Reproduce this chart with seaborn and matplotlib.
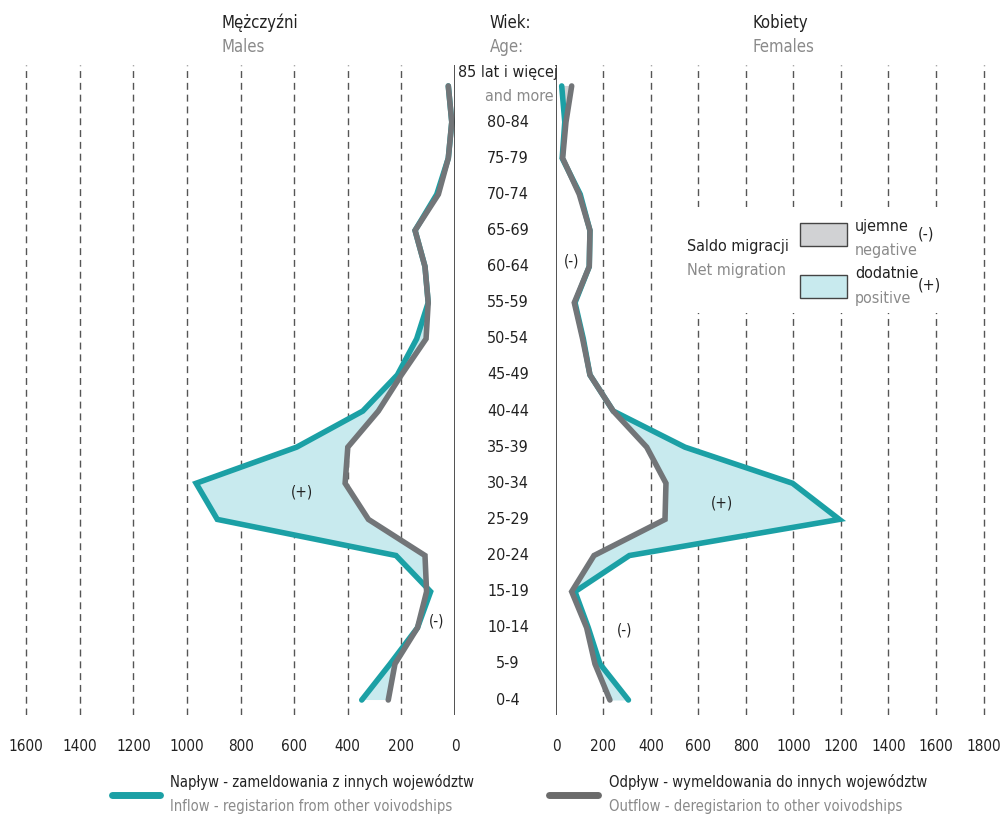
import numpy as np
import pandas as pd
import matplotlib
matplotlib.use("Agg")
from matplotlib import pyplot as plt
from matplotlib import transforms
from matplotlib.patches import Rectangle
from matplotlib.lines import Line2D
import seaborn as sns

# age groups, bottom to top
ages = ["0-4", "5-9", "10-14", "15-19", "20-24", "25-29", "30-34", "35-39", "40-44",
        "45-49", "50-54", "55-59", "60-64", "65-69", "70-74", "75-79", "80-84", "85 lat i więcej"]

males_in = [348, 242, 140, 91, 220, 887, 966, 591, 344, 215, 143, 100, 112, 149, 68, 25, 12, 25]
males_out = [249, 224, 140, 106, 112, 323, 410, 400, 286, 200, 108, 100, 112, 149, 62, 25, 12, 25]
females_in = [305, 185, 136, 80, 309, 1193, 996, 543, 241, 143, 115, 80, 140, 143, 102, 26, 37, 24]
females_out = [227, 164, 129, 66, 160, 459, 463, 382, 241, 143, 112, 77, 140, 143, 98, 28, 42, 66]

male_ticks = [0, 200, 400, 600, 800, 1000, 1200, 1400, 1600]
female_ticks = [0, 200, 400, 600, 800, 1000, 1200, 1400, 1600, 1800]

TEAL = "#1ba0a5"
GREY = "#727578"
POS = "#c8eaee"
NEG = "#d1d2d4"
DARK = "#222222"
LIGHT = "#8a8a8a"

sns.set_style("white")
plt.rcParams["font.family"] = ["DejaVu Sans"]
plt.rcParams["font.stretch"] = "condensed"
FS = 11

W, H = 1003, 814
fig = plt.figure(figsize=(W / 100, H / 100), dpi=100)

def px_box(x0, x1, y0, y1):
    return [x0 / W, 1 - y1 / H, (x1 - x0) / W, (y1 - y0) / H]

axL = fig.add_axes(px_box(5, 455, 65, 715))
axR = fig.add_axes(px_box(556, 1003, 65, 715))

pos = np.arange(len(ages))
ylim = (-0.415, 17.58)

def panel(ax, inflow, outflow, ticks, xmax, invert):
    inflow = np.array(inflow, dtype=float)
    outflow = np.array(outflow, dtype=float)
    for t in ticks[1:]:
        ax.axvline(t, color="#555555", lw=1, ls=(0, (5, 3.5)), zorder=1)
    ax.fill_betweenx(pos, inflow, outflow, where=inflow >= outflow,
                     interpolate=True, color=POS, lw=0, zorder=2)
    ax.fill_betweenx(pos, inflow, outflow, where=inflow <= outflow,
                     interpolate=True, color=NEG, lw=0, zorder=2)
    df = pd.DataFrame({"age": pos, "in": inflow, "out": outflow})
    sns.lineplot(data=df, x="in", y="age", orient="y", sort=False, ax=ax,
                 color=TEAL, lw=4, zorder=4, solid_capstyle="round", solid_joinstyle="miter")
    sns.lineplot(data=df, x="out", y="age", orient="y", sort=False, ax=ax,
                 color=GREY, lw=4, zorder=5, solid_capstyle="round", solid_joinstyle="miter")
    if invert:
        ax.set_xlim(xmax, 0)
    else:
        ax.set_xlim(0, xmax)
    ax.set_ylim(*ylim)
    ax.set_xticks(ticks)
    ax.set_xticklabels([str(t) for t in ticks])
    ax.set_yticks([])
    ax.set_xlabel("")
    ax.set_ylabel("")
    ax.tick_params(axis="x", length=0, pad=17, labelsize=FS, colors=DARK)
    for s in ax.spines.values():
        s.set_visible(False)
    ax.patch.set_alpha(0)

panel(axL, males_in, males_out, male_ticks, 450 / 0.268, True)
panel(axR, females_in, females_out, female_ticks, 447 / 0.2375, False)

axL.axvline(0, color="#333333", lw=1.2, zorder=6)
axR.axvline(0, color="#333333", lw=1.2, zorder=6)

# blank area behind the net migration legend
fig.patches.append(Rectangle((680 / W, 1 - 313 / H), (958 - 680) / W, (313 - 207) / H,
                             transform=fig.transFigure, facecolor="white", edgecolor="none", zorder=3))

# age labels in the middle
tr = transforms.blended_transform_factory(fig.transFigure, axL.transData)
for p, a in zip(pos[:-1], ages[:-1]):
    fig.text(508 / W, p, a, transform=tr, ha="center", va="center", fontsize=FS + 0.5, color=DARK)
fig.text(508 / W, 17.38, ages[-1], transform=tr, ha="center", va="center", fontsize=FS + 0.5, color=DARK)
fig.text(554 / W, 16.7, "and more", transform=tr, ha="right", va="center", fontsize=FS + 0.5, color=LIGHT)

def pair(x, y, top, bottom, size=FS + 0.5, ha="center"):
    fig.text(x / W, 1 - y / H, top, ha=ha, va="center", fontsize=size, color=DARK)
    fig.text(x / W, 1 - (y + 24) / H, bottom, ha=ha, va="center", fontsize=size, color=LIGHT)

pair(222, 23, "Mężczyźni", "Males", size=FS + 1, ha="left")
pair(490, 23, "Wiek:", "Age:", size=FS + 1, ha="left")
pair(753, 23, "Kobiety", "Females", size=FS + 1, ha="left")

# net migration legend
pair(687, 247, "Saldo migracji", "Net migration", ha="left")
fig.patches.append(Rectangle((800 / W, 1 - 246 / H), 47 / W, 23 / H, transform=fig.transFigure,
                             facecolor=NEG, edgecolor="#444444", lw=1, zorder=4))
fig.patches.append(Rectangle((800 / W, 1 - 298 / H), 47 / W, 23 / H, transform=fig.transFigure,
                             facecolor=POS, edgecolor="#444444", lw=1, zorder=4))
pair(855, 226, "ujemne", "negative", ha="left")
pair(855, 274, "dodatnie", "positive", ha="left")
fig.text(918 / W, 1 - 234 / H, "(-)", ha="left", va="center", fontsize=FS + 0.5, color=DARK)
fig.text(918 / W, 1 - 285 / H, "(+)", ha="left", va="center", fontsize=FS + 0.5, color=DARK)

# sign annotations
for x, y, s in [(302, 492, "(+)"), (437, 621, "(-)"), (722, 503, "(+)"), (625, 630, "(-)"), (572, 261, "(-)")]:
    fig.text(x / W, 1 - y / H, s, ha="center", va="center", fontsize=FS, color=DARK)

# line legend at the bottom
fig.add_artist(Line2D([112 / W, 160 / W], [1 - 795 / H] * 2, color=TEAL, lw=5, solid_capstyle="round"))
fig.add_artist(Line2D([549 / W, 598 / W], [1 - 795 / H] * 2, color="#6b6b6b", lw=5, solid_capstyle="round"))
pair(170, 782, "Napływ - zameldowania z innych województw", "Inflow - registarion from other voivodships",
     size=10.6, ha="left")
pair(609, 782, "Odpływ - wymeldowania do innych województw", "Outflow - deregistarion to other voivodships",
     size=10.6, ha="left")

fig.savefig("out.png", dpi=100)
